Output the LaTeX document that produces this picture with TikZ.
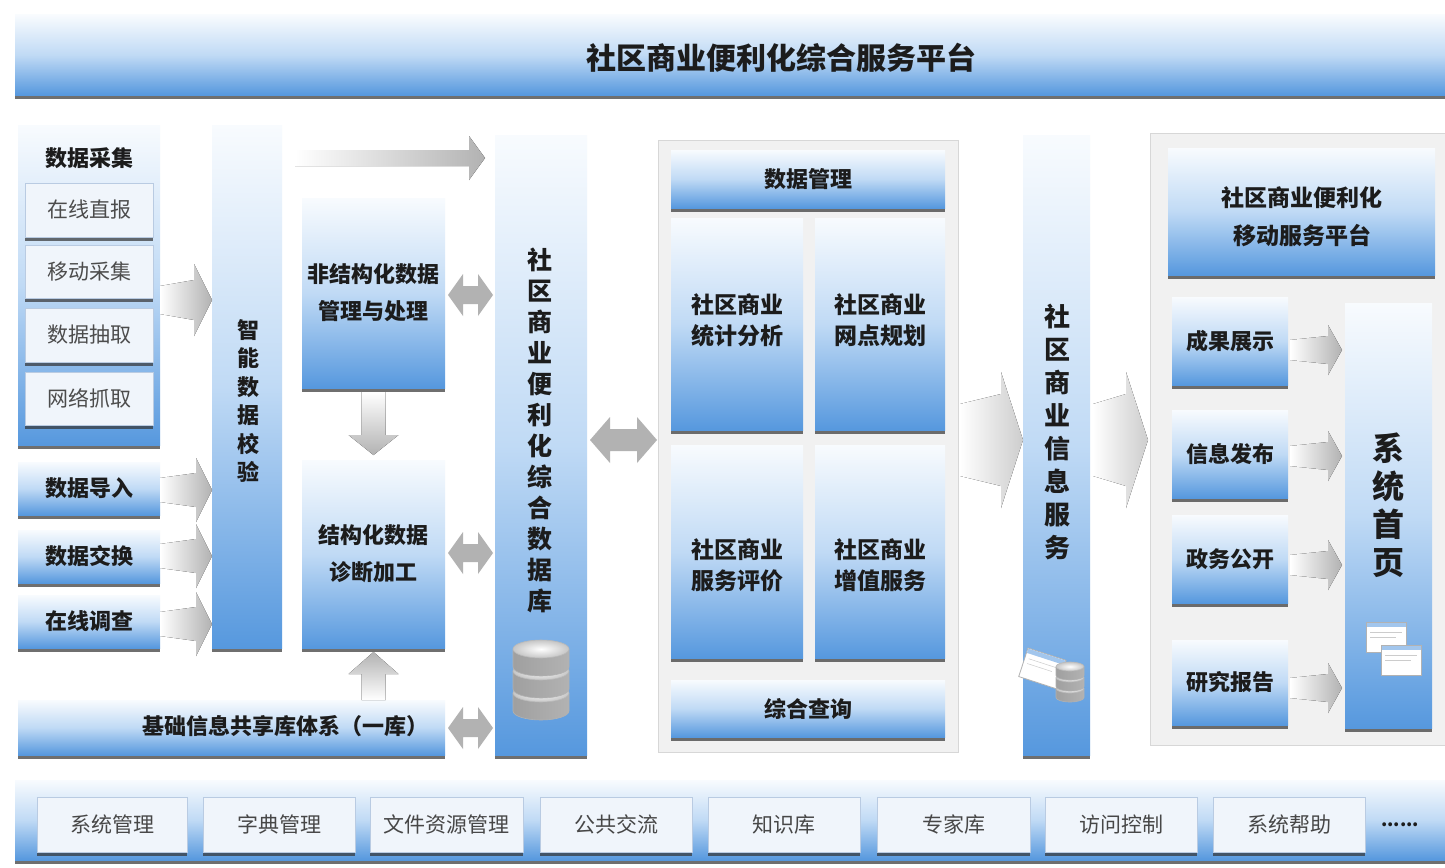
\documentclass[tikz,border=0pt]{standalone}
\usepackage{fontspec}
\setmainfont{Noto Sans CJK SC}
\usetikzlibrary{shadows,calc}
\definecolor{bluB}{RGB}{86,152,222}
\definecolor{bluM}{RGB}{192,218,245}
\definecolor{bluT}{RGB}{248,251,254}
\definecolor{agray}{RGB}{178,178,178}
\definecolor{agrayL}{RGB}{205,205,205}
\definecolor{pgray}{RGB}{241,241,241}
\definecolor{pdraw}{RGB}{215,215,215}
\definecolor{subF}{RGB}{240,245,251}
\definecolor{subD}{RGB}{185,203,226}
\definecolor{tdark}{RGB}{28,28,28}
\tikzset{
  every node/.style={inner sep=0pt, outer sep=0pt},
  shad/.style={drop shadow={shadow xshift=0pt, shadow yshift=-3.5pt, opacity=.7, fill=black!80}},
  gbox/.style={shad, top color=bluT, bottom color=bluB, middle color=bluM, text=tdark, align=center, font=\bfseries\fontsize{22}{37}\selectfont},
  subbox/.style={shad, fill=subF, draw=subD, line width=1pt, text=black!70, font=\fontsize{21}{24}\selectfont},
  botbox/.style={shad, fill=subF, draw=subD, line width=1pt, text=black!72, font=\fontsize{21}{24}\selectfont},
  lbl/.style={text=tdark, align=center, font=\bfseries\fontsize{22}{37}\selectfont},
  mtext/.style={text=tdark, align=center, font=\bfseries\fontsize{23}{31}\selectfont},
  panel/.style={fill=pgray, draw=pdraw, line width=1pt},
  dbicon/.pic={
    \foreach \ty in {13,-9,-31}{
      \shade[left color=gray!75, middle color=white, right color=gray!60]
        (-28,\ty) -- (-28,\ty+18) arc[start angle=180, end angle=0, x radius=28, y radius=9] -- (28,\ty) -- cycle;
      \draw[gray!60, line width=0.6pt] (-28,\ty) -- (-28,\ty+18) arc[start angle=180, end angle=0, x radius=28, y radius=9] -- (28,\ty);
      \shade[inner color=white, outer color=gray!45] (0,\ty) ellipse[x radius=28, y radius=9];
      \draw[gray!55, line width=0.6pt] (0,\ty) ellipse[x radius=28, y radius=9];
    }
  },
  winicon/.pic={
    \fill[white, draw=gray!60, line width=0.8pt] (0,0) rectangle (40,30);
    \fill[bluB!55] (0.5,0.5) rectangle (39.5,5);
    \draw[gray!40, line width=0.5pt] (4,10) -- (36,10) (4,15) -- (30,15);
  }
}
\newcommand\bx[7]{\node[#6, minimum width={(#4)-(#2)}, minimum height={(#5)-(#3)}] (#1) at ({((#2)+(#4))/2},{((#3)+(#5))/2}) {#7};}
% fan arrow to the right: start, end, tail half, neck half, head half, head length
\newcommand\fanR[7][agray]{%
  \fill[left color=white, right color=#1] let \p1=#2, \p2=#3 in
    (\x1,\y1+#4pt) -- (\x2-#7pt,\y1+#5pt) -- (\x2-#7pt,\y1+#6pt) -- (\x2,\y1)
    -- (\x2-#7pt,\y1-#6pt) -- (\x2-#7pt,\y1-#5pt) -- (\x1,\y1-#4pt) -- cycle;}
% double arrow: start, end, shaft half, head half, head length
\newcommand\arrLR[5]{%
  \fill[agray] let \p1=#1, \p2=#2 in
    (\x1,\y1) -- (\x1+#5pt,\y1+#4pt) -- (\x1+#5pt,\y1+#3pt) -- (\x2-#5pt,\y1+#3pt)
    -- (\x2-#5pt,\y1+#4pt) -- (\x2,\y1) -- (\x2-#5pt,\y1-#4pt) -- (\x2-#5pt,\y1-#3pt)
    -- (\x1+#5pt,\y1-#3pt) -- (\x1+#5pt,\y1-#4pt) -- cycle;}
% down arrow
\newcommand\arrD[5]{%
  \fill[top color=white, bottom color=agray] let \p1=#1, \p2=#2 in
    (\x1-#3pt,\y1) -- (\x1-#3pt,\y2+#5pt) -- (\x1-#4pt,\y2+#5pt) -- (\x1,\y2)
    -- (\x1+#4pt,\y2+#5pt) -- (\x1+#3pt,\y2+#5pt) -- (\x1+#3pt,\y1) -- cycle;}
% up arrow
\newcommand\arrU[5]{%
  \fill[bottom color=white, top color=agray] let \p1=#1, \p2=#2 in
    (\x1-#3pt,\y1) -- (\x1-#3pt,\y2-#5pt) -- (\x1-#4pt,\y2-#5pt) -- (\x1,\y2)
    -- (\x1+#4pt,\y2-#5pt) -- (\x1+#3pt,\y2-#5pt) -- (\x1+#3pt,\y1) -- cycle;}
\begin{document}
\begin{tikzpicture}[x=1pt, y=-1pt]
\useasboundingbox (0,0) rectangle (1445,867);
\fill[white] (0,0) rectangle (1445,867);

% title
\bx{top}{15}{15}{1445}{95}{gbox}{}
\node[text=tdark, font=\bfseries\fontsize{30}{36}\selectfont] (toptext) at (781,58) {社区商业便利化综合服务平台};

% left column
\bx{cj}{18}{125}{160}{445}{gbox}{}
\node[lbl] (cjt) at (89,158) {数据采集};
\bx{zb}{25}{183}{153}{237}{subbox}{在线直报}
\bx{yd}{25}{245}{153}{298}{subbox}{移动采集}
\bx{cq}{25}{308}{153}{362}{subbox}{数据抽取}
\bx{zq}{25}{372}{153}{425}{subbox}{网络抓取}
\bx{dr}{18}{462}{160}{515}{gbox}{数据导入}
\bx{jh}{18}{530}{160}{583}{gbox}{数据交换}
\bx{dc}{18}{595}{160}{648}{gbox}{在线调查}

\bx{jy}{212}{125}{282}{648}{gbox}{}
\node[text=tdark, align=center, font=\bfseries\fontsize{22}{28.5}\selectfont] (jyt) at (248,401) {智\\能\\数\\据\\校\\验};

\bx{fjg}{302}{198}{445}{388}{gbox}{非结构化数据\\管理与处理}
\bx{jg}{302}{460}{445}{648}{gbox}{结构化数据\\诊断加工}
\bx{jc}{18}{700}{445}{755}{gbox}{}
\node[lbl] (jct) at (285,726) {基础信息共享库体系（一库）};

% database column
\bx{db}{495}{135}{587}{755}{gbox}{}
\node[text=tdark, align=center, font=\bfseries\fontsize{25}{31}\selectfont] (dbt) at (540,430) {社\\区\\商\\业\\便\\利\\化\\综\\合\\数\\据\\库};
\pic at (541,680) {dbicon};

% middle panel
\bx{mp}{658}{140}{958}{752}{panel}{}
\bx{sjgl}{671}{150}{945}{208}{gbox}{数据管理}
\bx{tj}{671}{218}{803}{430}{gbox}{}
\node[mtext] (tjt) at (737,320) {社区商业\\统计分析};
\bx{wd}{815}{218}{945}{430}{gbox}{}
\node[mtext] (wdt) at (880,320) {社区商业\\网点规划};
\bx{pj}{671}{445}{803}{658}{gbox}{}
\node[mtext] (pjt) at (737,565) {社区商业\\服务评价};
\bx{zz}{815}{445}{945}{658}{gbox}{}
\node[mtext] (zzt) at (880,565) {社区商业\\增值服务};
\bx{zhcx}{671}{680}{945}{737}{gbox}{综合查询}

% info service column
\bx{xx}{1023}{135}{1090}{755}{gbox}{}
\node[text=tdark, align=center, font=\bfseries\fontsize{26}{33}\selectfont] (xxt) at (1057,432) {社\\区\\商\\业\\信\\息\\服\\务};
\pic[rotate=-18] at (1028,648) {winicon};
\pic[scale=0.5] at (1070,682) {dbicon};

% right panel
\bx{rp}{1150}{133}{1445}{745}{panel}{}
\bx{ydp}{1168}{148}{1435}{275}{gbox}{}
\node[text=tdark, align=center, font=\bfseries\fontsize{23}{38}\selectfont] (ydpt) at (1302,217) {社区商业便利化\\移动服务平台};
\bx{cg}{1172}{297}{1288}{385}{gbox}{成果展示}
\bx{fb}{1172}{410}{1288}{498}{gbox}{信息发布}
\bx{gk}{1172}{515}{1288}{603}{gbox}{政务公开}
\bx{bg}{1172}{640}{1288}{725}{gbox}{研究报告}
\bx{sy}{1345}{303}{1432}{728}{gbox}{}
\node[text=tdark, align=center, font=\bfseries\fontsize{32}{38}\selectfont] (syt) at (1388,505) {系\\统\\首\\页};
\pic at (1366,622) {winicon};
\pic at (1381,645) {winicon};

% bottom bar
\bx{bot}{15}{780}{1445}{860}{gbox}{}
\bx{b1}{37}{797}{187}{852}{botbox}{系统管理}
\bx{b2}{203}{797}{355}{852}{botbox}{字典管理}
\bx{b3}{370}{797}{523}{852}{botbox}{文件资源管理}
\bx{b4}{540}{797}{692}{852}{botbox}{公共交流}
\bx{b5}{708}{797}{860}{852}{botbox}{知识库}
\bx{b6}{877}{797}{1030}{852}{botbox}{专家库}
\bx{b7}{1045}{797}{1197}{852}{botbox}{访问控制}
\bx{b8}{1213}{797}{1365}{852}{botbox}{系统帮助}
\node[text=tdark, font=\bfseries\fontsize{18}{20}\selectfont] (bdots) at (1400,825) {......};

% arrows: inputs to check column
\fanR{(cj.east |- 0,300)}{(jy.west |- 0,300)}{14}{20}{36}{18}
\fanR{(dr.east |- 0,490)}{(jy.west |- 0,490)}{12}{17}{32}{16}
\fanR{(jh.east |- 0,556)}{(jy.west |- 0,556)}{12}{17}{32}{16}
\fanR{(dc.east |- 0,624)}{(jy.west |- 0,624)}{12}{17}{32}{16}
% top arrow to database
\fanR{($(jy.east |- 0,158)+(13,0)$)}{($(db.west |- 0,158)+(-10,0)$)}{8}{8}{22}{16}
% processing
\arrD{($(fjg.south)+(0,4)$)}{($(jg.north)+(0,-5)$)}{12}{25}{20}
\arrU{(jg.south |- jc.north)}{($(jg.south)+(0,4)$)}{12}{25}{22}
% double arrows
\arrLR{($(fjg.east |- 0,295)+(3,0)$)}{($(db.west |- 0,295)+(-2,0)$)}{9}{21}{15}
\arrLR{($(jg.east |- 0,553)+(3,0)$)}{($(db.west |- 0,553)+(-2,0)$)}{9}{21}{15}
\arrLR{($(jc.east |- 0,728)+(3,0)$)}{($(db.west |- 0,728)+(-2,0)$)}{9}{21}{15}
\arrLR{($(db.east |- 0,440)+(3,0)$)}{($(mp.west |- 0,440)+(-1,0)$)}{11}{23}{20}
% big arrows
\fanR[agrayL]{($(mp.east |- 0,440)+(2,0)$)}{(xx.west |- 0,440)}{36}{46}{68}{22}
\fanR[agrayL]{($(xx.east |- 0,440)+(3,0)$)}{($(rp.west |- 0,440)+(-2,0)$)}{36}{46}{68}{22}
% right small arrows
\fanR{($(cg.east |- 0,350)+(2,0)$)}{($(sy.west |- 0,350)+(-3,0)$)}{10}{14}{25}{14}
\fanR{($(fb.east |- 0,456)+(2,0)$)}{($(sy.west |- 0,456)+(-3,0)$)}{10}{14}{25}{14}
\fanR{($(gk.east |- 0,565)+(2,0)$)}{($(sy.west |- 0,565)+(-3,0)$)}{10}{14}{25}{14}
\fanR{($(bg.east |- 0,688)+(2,0)$)}{($(sy.west |- 0,688)+(-3,0)$)}{10}{14}{25}{14}
\end{tikzpicture}
\end{document}
